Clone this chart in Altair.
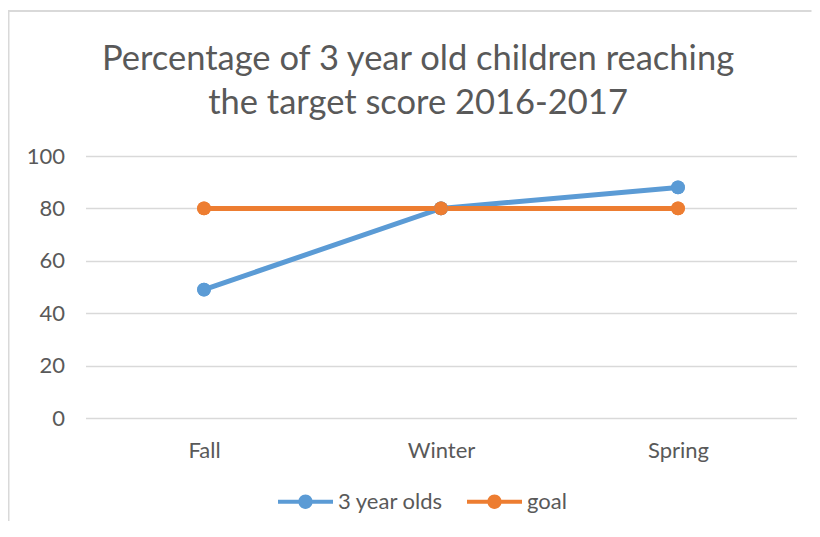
import altair as alt
import pandas as pd

seasons = ["Fall", "Winter", "Spring"]
three_year_olds = [49, 80, 88]
goal = [80, 80, 80]
series_names = ["3 year olds", "goal"]
colors = ["#5B9BD5", "#ED7D31"]
title_lines = ["Percentage of 3 year old children reaching", "the target score 2016-2017"]

rows = []
for s, v in zip(seasons, three_year_olds):
    rows.append({"season": s, "series": series_names[0], "value": v})
for s, v in zip(seasons, goal):
    rows.append({"season": s, "series": series_names[1], "value": v})
df = pd.DataFrame(rows)

FONT = "Lato"
TXT = "#595959"
sym_path = ("M-1,-0.075H1V0.075H-1Z "
            "M0.26,0A0.26,0.26,0,1,1,-0.26,0A0.26,0.26,0,1,1,0.26,0Z")

legend = alt.Legend(
    title=None, orient="none", direction="horizontal",
    legendX=192.5, legendY=318,
    symbolType=sym_path, symbolSize=3025,
    labelFont=FONT, labelFontSize=22, labelColor=TXT, labelOffset=5,
    columnPadding=23, symbolStrokeWidth=0,
)

x = alt.X("season:N", sort=seasons, scale=alt.Scale(type="point", padding=0.5),
          axis=alt.Axis(title=None, domain=False, ticks=False, labelAngle=0,
                        labelFont=FONT, labelFontSize=22, labelColor=TXT, labelPadding=22, grid=False))
y = alt.Y("value:Q", scale=alt.Scale(domain=[0, 100], nice=False),
          axis=alt.Axis(title=None, domain=False, ticks=False, values=[0, 20, 40, 60, 80, 100],
                        labelFont=FONT, labelFontSize=22, labelColor=TXT, labelPadding=21,
                        grid=True, gridColor="#D9D9D9", gridWidth=1.3))
color = alt.Color("series:N", scale=alt.Scale(domain=series_names, range=colors), legend=legend)

base = alt.Chart(df)
lines = base.mark_line(strokeWidth=5).encode(x=x, y=y, color=color)
points = base.mark_point(filled=True, size=190, opacity=1).encode(x=x, y=y, color=color)

frame_df = pd.DataFrame({"a": [0]})
top_edge = alt.Chart(frame_df).mark_rule(stroke="#D9D9D9", strokeWidth=2).encode(
    x=alt.value(-77), x2=alt.value(726), y=alt.value(-145))
left_edge = alt.Chart(frame_df).mark_rule(stroke="#D9D9D9", strokeWidth=2).encode(
    x=alt.value(-77), y=alt.value(-146), y2=alt.value(365))

chart = alt.layer(top_edge, left_edge, points, lines, points).properties(
    width=711, height=262,
    autosize=alt.AutoSizeParams(type="none"),
    padding={"left": 77.5, "top": 148, "right": 15.5, "bottom": 104},
    title=alt.TitleParams(text=title_lines, font=FONT, fontSize=34.5, fontWeight="normal",
                          color=TXT, anchor="middle", frame="group", dx=-23,
                          offset=38, dy=150, lineHeight=44),
).configure_view(stroke=None)

chart.save("out.html", embed_options={"renderer": "svg", "actions": False})
